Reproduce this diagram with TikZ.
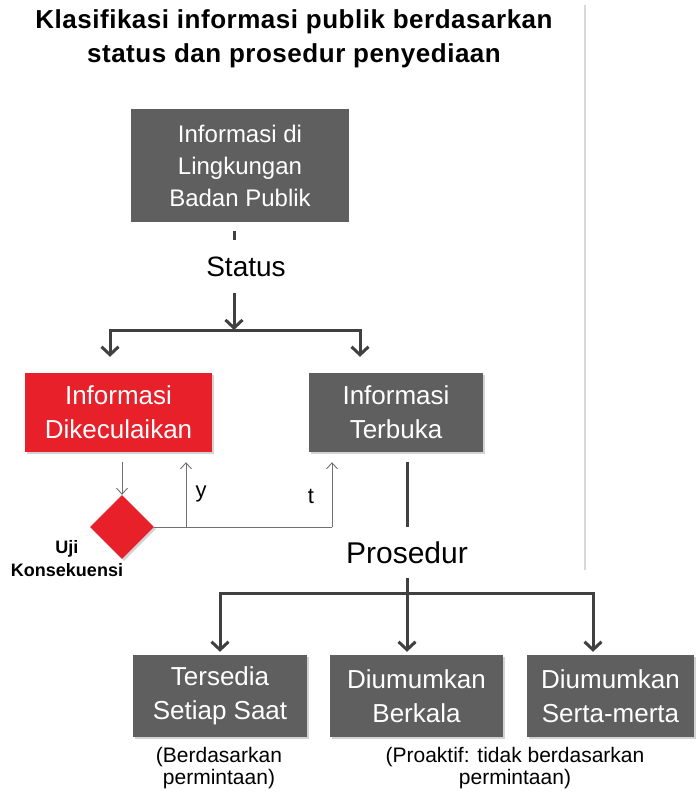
\documentclass[tikz,border=0pt]{standalone}
\usepackage{fontspec}
\setmainfont{Liberation Sans}
\usetikzlibrary{arrows.meta,shapes.geometric,shadows}
\definecolor{kotakabu}{HTML}{5F5F5F}
\definecolor{kotakmerah}{HTML}{E8202A}
\definecolor{garisabu}{HTML}{404040}
\begin{document}
\begin{tikzpicture}[x=1pt,y=-1pt,
		kotak/.style={fill=kotakabu,text=white,align=center,inner sep=0pt,font=\fontsize{26}{34}\selectfont},
		bayang/.style={drop shadow={opacity=0.35,shadow xshift=2pt,shadow yshift=-2pt}},
		tebal/.style={draw=garisabu,line width=3pt},
		tipis/.style={draw=garisabu!75,line width=0.9pt},
		ujung/.style={-{Straight Barb[length=8pt,width=17pt]}},
		ujungkecil/.style={-{Straight Barb[length=6pt,width=11pt]}}]
		\useasboundingbox (0,0) rectangle (698,793);
		\coordinate (garisA) at (585,5);
		\coordinate (garisB) at (585,570);
		\coordinate (tikA) at (234,231);
		\coordinate (tikB) at (234,240);
		\coordinate (statA) at (234,293);
		\coordinate (statB) at (234,330);
		\coordinate (cabangL) at (110,330);
		\coordinate (cabangR) at (360,330);
		\coordinate (cabangY) at (186,527);
		\coordinate (cabangT) at (332,527);
		\coordinate (tbA) at (407,462);
		\coordinate (tbB) at (407,527);
		\coordinate (prosA) at (407,578);
		\coordinate (prosL) at (220,593);
		\coordinate (prosR) at (593,593);
		\draw[gray!30,line width=1.5pt] (garisA) -- (garisB);
		\node[font=\bfseries\fontsize{26}{34}\selectfont\addfontfeatures{LetterSpace=2},align=center] (judul) at (294,39) {Klasifikasi informasi  publik berdasarkan\\status dan prosedur  penyediaan};
		\node[kotak,font=\fontsize{24}{32}\selectfont,minimum width=218pt,minimum height=113pt] (lingkungan) at (240,165.5) {Informasi di\\Lingkungan\\Badan Publik};
		\node[font=\fontsize{28}{34}\selectfont] (status) at (246,267) {Status};
		\node[kotak,bayang,fill=kotakmerah,minimum width=187pt,minimum height=79pt] (dikecualikan) at (118.5,412.5) {Informasi\\Dikeculaikan};
		\node[kotak,bayang,minimum width=174pt,minimum height=79pt] (terbuka) at (396,412.5) {Informasi\\Terbuka};
		\node[diamond,bayang,fill=kotakmerah,minimum size=64pt,inner sep=0pt] (uji) at (122,527) {};
		\node[font=\bfseries\fontsize{18}{23}\selectfont,align=center] (ujilabel) at (67,558.5) {Uji\\Konsekuensi};
		\node[font=\fontsize{22}{26}\selectfont] (labely) at (201,494) {y};
		\node[font=\fontsize{22}{26}\selectfont] (labelt) at (311,496) {t};
		\node[font=\fontsize{30}{34}\selectfont] (prosedur) at (407,553) {Prosedur};
		\node[kotak,bayang,minimum width=174pt,minimum height=82pt] (tersedia) at (220,696) {Tersedia\\Setiap Saat};
		\node[kotak,bayang,minimum width=173pt,minimum height=82pt] (berkala) at (416.5,696) {Diumumkan\\Berkala};
		\node[kotak,bayang,minimum width=167pt,minimum height=82pt] (sertamerta) at (610.5,696) {Diumumkan\\Serta-merta};
		\node[font=\fontsize{21}{22}\selectfont,align=center] (catatanA) at (219,768) {(Berdasarkan\\permintaan)};
		\node[font=\fontsize{21}{22}\selectfont,align=center] (catatanB) at (515,768) {(Proaktif: tidak berdasarkan\\permintaan)};
		\draw[tebal] (tikA) -- (tikB);
		\draw[tebal,ujung] (statA) -- (statB);
		\draw[tebal,{Straight Barb[length=8pt,width=17pt]}-{Straight Barb[length=8pt,width=17pt]},shorten <=16pt,shorten >=16pt] (cabangL |- dikecualikan.north) -- (cabangL) -- (cabangR) -- (cabangR |- terbuka.north);
		\draw[tipis,ujungkecil,shorten <=10pt] (dikecualikan.south -| uji.north) -- (uji.north);
		\draw[tipis] (uji.east) -- (cabangT);
		\draw[tipis,ujungkecil,shorten >=10pt] (cabangY) -- (cabangY |- dikecualikan.south);
		\draw[tipis,ujungkecil,shorten >=10pt] (cabangT) -- (cabangT |- terbuka.south);
		\draw[tebal] (tbA) -- (tbB);
		\draw[tebal,ujung,shorten >=3pt] (prosA) -- (prosA |- berkala.north);
		\draw[tebal,{Straight Barb[length=8pt,width=17pt]}-{Straight Barb[length=8pt,width=17pt]},shorten <=3pt,shorten >=3pt] (prosL |- tersedia.north) -- (prosL) -- (prosR) -- (prosR |- sertamerta.north);
	\end{tikzpicture}
\end{document}
